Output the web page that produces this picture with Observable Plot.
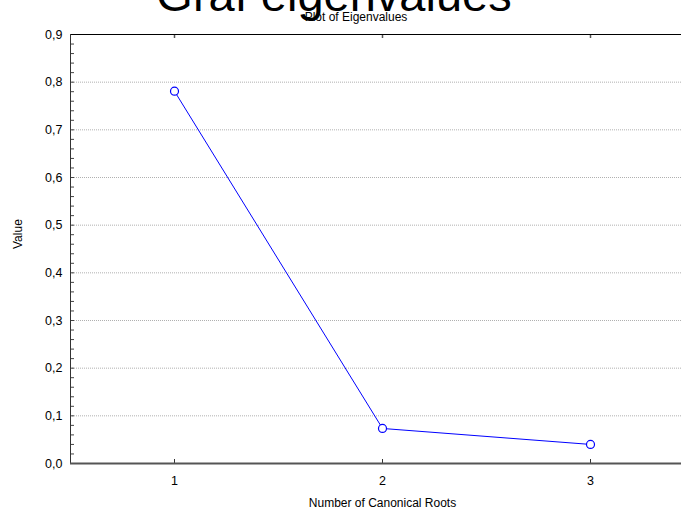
<!DOCTYPE html>
<html>
<head>
<meta charset="utf-8">
<script src="https://cdn.jsdelivr.net/npm/d3@7"></script>
<script src="https://cdn.jsdelivr.net/npm/@observablehq/plot@0.6"></script>
<style>
  html, body { margin: 0; padding: 0; background: #fff; overflow: hidden; }
  svg { overflow: visible; }
</style>
</head>
<body>
<div id="chart"></div>
<script>
const roots = [1, 2, 3];
const eigenvalues = [0.781, 0.0735, 0.040];
const xTicks = [1, 2, 3];
const yTicks = [0, 0.1, 0.2, 0.3, 0.4, 0.5, 0.6, 0.7, 0.8, 0.9];
const yGrid = [0.1, 0.2, 0.3, 0.4, 0.5, 0.6, 0.7, 0.8];
const yMinor = d3.range(0, 0.9001, 0.02);
const mainTitle = "Graf eigenvalues";
const plotTitle = "Plot of Eigenvalues";
const xLabel = "Number of Canonical Roots";
const yLabel = "Value";

const data = roots.map((r, i) => ({root: r, value: eigenvalues[i]}));

const W = 681, H = 513, mT = 34, mB = 50, mL = 70, mR = 0;
const fw = W - mL - mR, fh = H - mT - mB;
const fmt = d => d.toFixed(1).replace(".", ",");
const font = "'Liberation Sans', Arial, Helvetica, sans-serif";

const chart = Plot.plot({
  width: W, height: H,
  marginTop: mT, marginBottom: mB, marginLeft: mL, marginRight: mR,
  style: {fontFamily: font, fontSize: "12px", color: "#000", background: "#fff"},
  x: {domain: [0.5, 3.4375], axis: null},
  y: {domain: [0, 0.9], axis: null},
  marks: [
    Plot.gridY(yGrid, {stroke: "#b0b0b0", strokeOpacity: 1, strokeDasharray: "1,1"}),
    Plot.tickY(yMinor, {y: d => d, insetRight: fw - 4, stroke: "#444"}),
    Plot.tickX(xTicks, {x: d => d, insetBottom: fh - 4, stroke: "#555", strokeWidth: 1.5}),
    Plot.tickX(xTicks, {x: d => d, insetTop: fh - 4, stroke: "#333"}),
    Plot.ruleY([0.9], {stroke: "#000", strokeWidth: 1.2}),
    Plot.ruleX([0.5], {stroke: "#333"}),
    Plot.ruleY([0], {stroke: "#555", strokeWidth: 2}),
    Plot.axisY(yTicks, {tickSize: 0, tickPadding: 8, tickFormat: fmt, fontSize: 12.5, label: null, fill: "#000"}),
    Plot.axisX(xTicks, {tickSize: 0, tickPadding: 13, tickFormat: d => String(d), fontSize: 12.5, label: null, fill: "#000"}),
    Plot.line(data, {x: "root", y: "value", stroke: "#0000ff", strokeWidth: 1}),
    Plot.dot(data, {x: "root", y: "value", r: 4, stroke: "#0000ff", fill: "#fff", strokeWidth: 1.2}),
    Plot.text([yLabel], {text: d => d, frameAnchor: "left", rotate: -90, dx: -52, fontSize: 12, fill: "#000"}),
    Plot.text([xLabel], {text: d => d, x: 2, frameAnchor: "bottom", dy: 43, fontSize: 12, fill: "#000"}),
    Plot.text([mainTitle], {text: d => d, frameAnchor: "top", dx: -42, dy: -39, fontSize: 47, fill: "#000", lineAnchor: "middle"}),
    Plot.text([plotTitle], {text: d => d, frameAnchor: "top", dx: -20, dy: -17, fontSize: 12, fill: "#000", lineAnchor: "middle"})
  ]
});
document.getElementById("chart").appendChild(chart);
</script>
</body>
</html>
